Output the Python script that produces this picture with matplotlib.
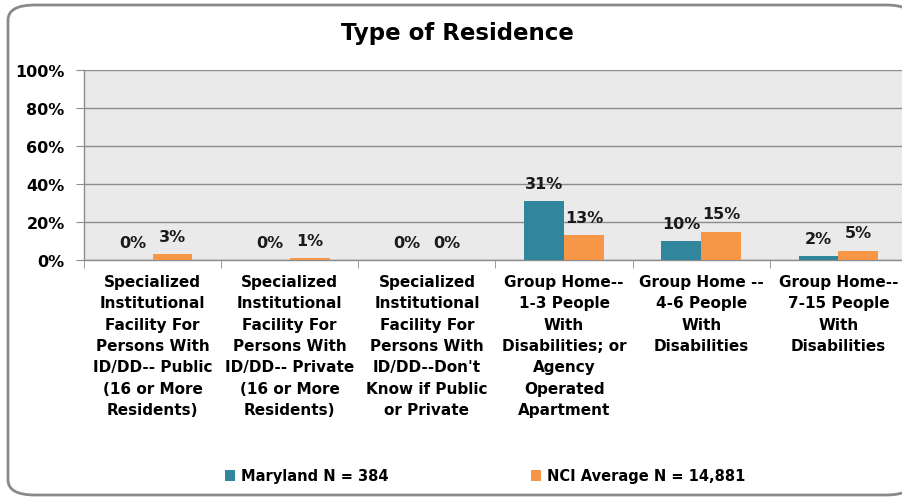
import matplotlib.pyplot as plt
from matplotlib.patches import FancyBboxPatch
import numpy as np

categories = [
    "Specialized\nInstitutional\nFacility For\nPersons With\nID/DD-- Public\n(16 or More\nResidents)",
    "Specialized\nInstitutional\nFacility For\nPersons With\nID/DD-- Private\n(16 or More\nResidents)",
    "Specialized\nInstitutional\nFacility For\nPersons With\nID/DD--Don't\nKnow if Public\nor Private",
    "Group Home--\n1-3 People\nWith\nDisabilities; or\nAgency\nOperated\nApartment",
    "Group Home --\n4-6 People\nWith\nDisabilities",
    "Group Home--\n7-15 People\nWith\nDisabilities",
]
maryland = [0, 0, 0, 31, 10, 2]
nci = [3, 1, 0, 13, 15, 5]
series_names = ["Maryland N = 384", "NCI Average N = 14,881"]
y_ticks = [0, 20, 40, 60, 80, 100]

teal = "#31859C"
orange = "#F79646"
grid_col = "#8C8C8C"

plt.rcParams["font.family"] = "DejaVu Sans"
plt.rcParams["font.weight"] = "bold"

fig = plt.figure(figsize=(9.03, 5.02), dpi=100)

# rounded outer frame
frame = FancyBboxPatch((8 / 903, 6 / 502), 905 / 903, 490 / 502,
                       boxstyle="round,pad=0,rounding_size=0.03",
                       transform=fig.transFigure, facecolor="white",
                       edgecolor="#8A8A8A", linewidth=2, zorder=-1)
fig.patches.append(frame)

ax = fig.add_axes([84 / 903, 1 - 261 / 502, 823 / 903, 190 / 502])
ax.set_facecolor("#EAEAEA")

x = np.arange(len(categories))
w = 0.29
b1 = ax.bar(x - w / 2, maryland, w, color=teal, label=series_names[0], zorder=3)
b2 = ax.bar(x + w / 2, nci, w, color=orange, label=series_names[1], zorder=3)

for bars, vals in ((b1, maryland), (b2, nci)):
    for r, v in zip(bars, vals):
        ax.text(r.get_x() + r.get_width() / 2, v + 5.5, f"{v}%", ha="center",
                va="bottom", fontsize=11.5, fontweight="bold", color="#1a1a1a")

ax.set_xlim(-0.5, len(categories) - 0.5)
ax.set_ylim(0, 100)
ax.set_yticks(y_ticks)
ax.set_yticklabels([f"{t}%" for t in y_ticks], fontsize=11.5, fontweight="bold")
ax.grid(axis="y", color=grid_col, linewidth=1, zorder=1)
ax.set_axisbelow(True)

ax.set_xticks(x)
ax.set_xticklabels(categories, fontsize=11, fontweight="bold", linespacing=1.53,
                   va="top")
ax.tick_params(axis="x", length=0, pad=10)
ax.set_xticks(np.arange(len(categories) + 1) - 0.5, minor=True)
ax.tick_params(axis="x", which="minor", length=6, color=grid_col)
ax.tick_params(axis="y", length=6, color=grid_col, pad=8)

for s in ("top", "right"):
    ax.spines[s].set_visible(False)
for s in ("left", "bottom"):
    ax.spines[s].set_color(grid_col)
    ax.spines[s].set_linewidth(1)

fig.text(457 / 903, 1 - 34 / 502, "Type of Residence", ha="center", va="center",
         fontsize=16.5, fontweight="bold")

fig.legend(handles=[b1, b2], labels=series_names, loc="center",
           bbox_to_anchor=(485 / 903, 1 - 477 / 502), ncol=2, frameon=False,
           handlelength=0.7, handleheight=0.7, columnspacing=9.8,
           handletextpad=0.4, prop={"weight": "bold", "size": 10.5})

fig.savefig("out.png", dpi=100)
